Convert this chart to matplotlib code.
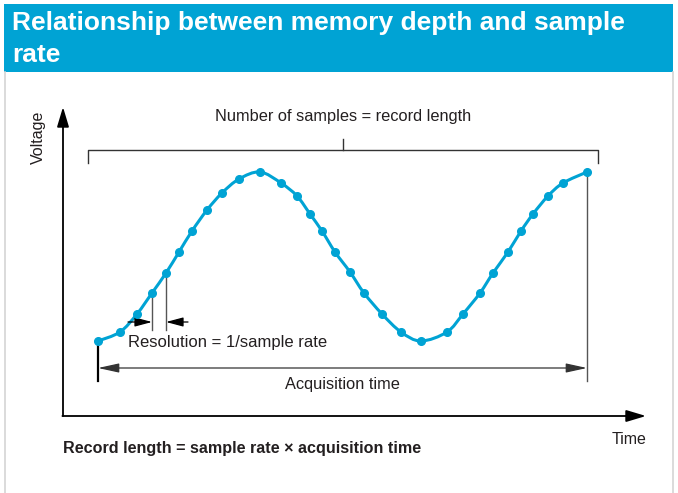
import matplotlib.pyplot as plt
from matplotlib.patches import Rectangle, PathPatch
from matplotlib.path import Path

# sample points of the waveform, in picture pixels (x right, y down)
sample_x = [98, 120, 137, 152, 166, 179, 192, 207, 222, 239, 260,
            281, 297, 310, 322, 335, 350, 364, 382, 401, 421,
            447, 463, 480, 493, 508, 521, 533, 548, 563, 587]
sample_y = [341, 332, 314, 293, 273, 252, 231, 210, 193, 179, 172,
            183, 196, 214, 231, 252, 272, 293, 314, 332, 341,
            332, 314, 293, 273, 252, 231, 214, 196, 183, 172]

title = "Relationship between memory depth and sample\nrate"
top_label = "Number of samples = record length"
res_label = "Resolution = 1/sample rate"
acq_label = "Acquisition time"
formula = "Record length = sample rate \u00d7 acquisition time"

blue = "#00a3d4"
ink = "#231f20"
narrow = ["Liberation Sans Narrow", "Liberation Sans", "DejaVu Sans"]

fig = plt.figure(figsize=(6.78, 4.93), dpi=100)
ax = fig.add_axes([0, 0, 1, 1])
ax.set_xlim(0, 678)
ax.set_ylim(493, 0)
ax.axis("off")

# frame and header band
ax.plot([4.5, 4.5], [72, 493], color="#d4d4d4", lw=1.2)
ax.plot([672.5, 672.5], [72, 493], color="#d4d4d4", lw=1.2)
ax.add_patch(Rectangle((4, 4), 669, 68, color=blue, lw=0))
ax.text(12, 39, title, color="white", fontsize=19, fontweight="bold",
        family=narrow, va="center", ha="left", linespacing=1.38)


def arrow(x0, y0, x1, y1, style, lw, scale, color="black"):
    ax.annotate("", xy=(x1, y1), xytext=(x0, y0),
                arrowprops=dict(arrowstyle=style, color=color, lw=lw,
                                mutation_scale=scale, shrinkA=0, shrinkB=0))


# axes with arrows
arrow(63, 416, 63, 107, "-|>,head_length=1.5,head_width=0.45", 1.3, 8)
arrow(62.4, 416, 646, 416, "-|>,head_length=1.5,head_width=0.45", 1.3, 8)
ax.text(38, 137, "Voltage", rotation=90, fontsize=11.5, family=narrow,
        color=ink, ha="center", va="center")
ax.text(646, 440, "Time", fontsize=11.5, family=narrow, color=ink,
        ha="right", va="center")

# bracket for number of samples
bx0, bx1 = sample_x[0] - 10, sample_x[-1] + 11
bmid = (bx0 + bx1) / 2
ax.plot([bx0, bx0, bx1, bx1], [163, 150, 150, 163], color="#333333", lw=1)
ax.plot([bmid, bmid], [150, 139], color="#333333", lw=1)
ax.text(bmid, 117, top_label, fontsize=11.8, family=narrow, color=ink,
        ha="center", va="center")

# waveform drawn as a smooth curve through the samples, then the samples
pts = list(zip(sample_x, sample_y))
verts = [pts[0]]
codes = [Path.MOVETO]
for i in range(len(pts) - 1):
    p0 = pts[i - 1] if i > 0 else pts[i]
    p1, p2 = pts[i], pts[i + 1]
    p3 = pts[i + 2] if i + 2 < len(pts) else pts[i + 1]
    c1 = (p1[0] + (p2[0] - p0[0]) / 6, p1[1] + (p2[1] - p0[1]) / 6)
    c2 = (p2[0] - (p3[0] - p1[0]) / 6, p2[1] - (p3[1] - p1[1]) / 6)
    verts += [c1, c2, p2]
    codes += [Path.CURVE4] * 3
ax.add_patch(PathPatch(Path(verts, codes), facecolor="none", edgecolor=blue,
                       lw=2.2, zorder=3))
ax.plot(sample_x, sample_y, "o", color=blue, ms=5.5, zorder=4)

# acquisition time
ax.plot([sample_x[0], sample_x[0]], [sample_y[0], 381], color="black", lw=1.6)
ax.plot([sample_x[-1], sample_x[-1]], [sample_y[-1], 381], color="#555555", lw=1)
arrow(sample_x[-1], 368, sample_x[0], 368,
      "<|-|>,head_length=1.6,head_width=0.35", 0.9, 8, "#333333")
ax.text((sample_x[0] + sample_x[-1]) / 2, 385, acq_label, fontsize=11.8,
        family=narrow, color=ink, ha="center", va="center")

# resolution between two samples
ra, rb = 3, 4
for i in (ra, rb):
    ax.plot([sample_x[i], sample_x[i]], [sample_y[i], 330], color="#555555", lw=1)
arrow(sample_x[ra] - 24, 322, sample_x[ra], 322,
      "-|>,head_length=1.5,head_width=0.4", 0.9, 7)
arrow(sample_x[rb] + 22, 322, sample_x[rb], 322,
      "-|>,head_length=1.5,head_width=0.4", 0.9, 7)
ax.text(128, 343, res_label, fontsize=12, family=narrow, color=ink,
        ha="left", va="center")

# formula
ax.text(63, 449, formula, fontsize=11.6, fontweight="bold", family=narrow,
        color=ink, ha="left", va="center")

fig.savefig("out.png", dpi=100)
